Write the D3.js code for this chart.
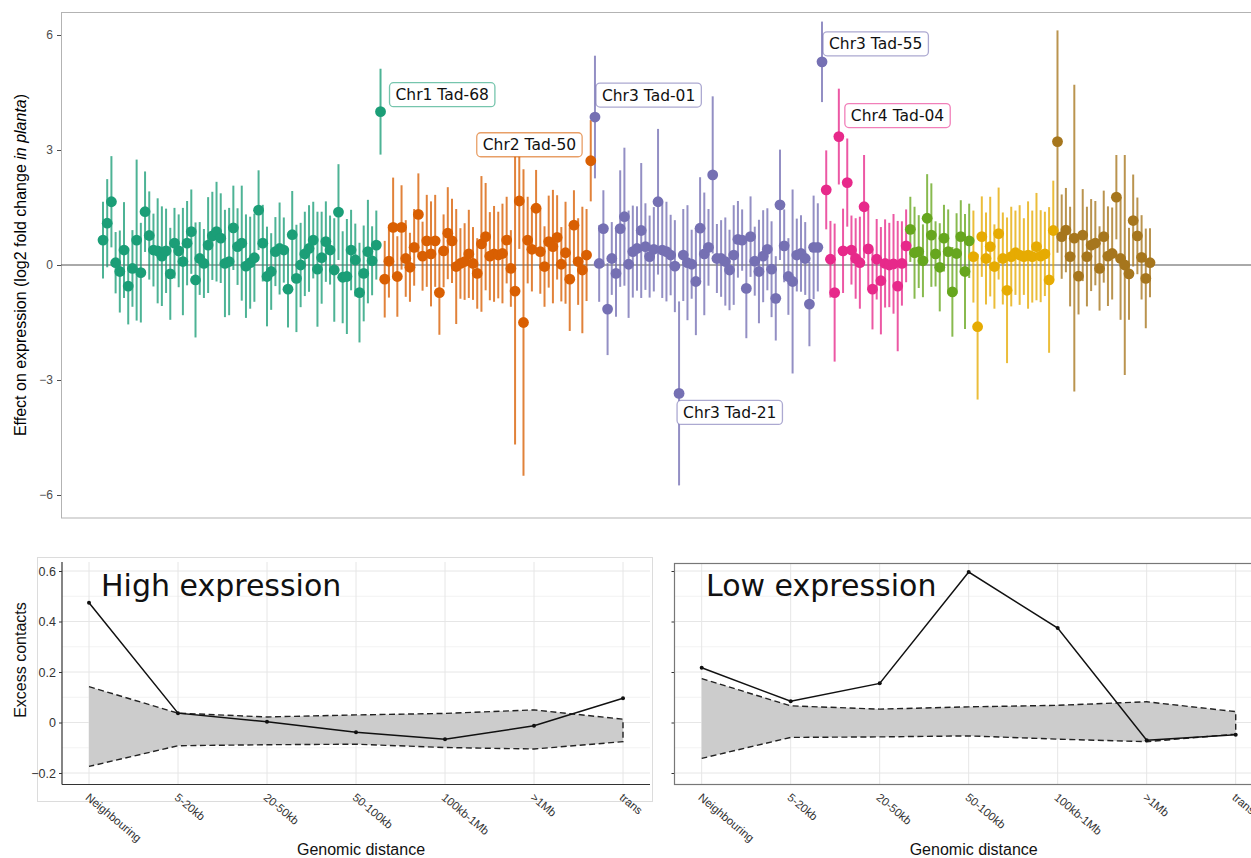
<!DOCTYPE html>
<html lang="en">
<head>
<meta charset="UTF-8">
<title>Effect on expression and excess contacts</title>
<style>
  body { margin: 0; background: #fff; }
  svg { display: block; }
  .ax text { font-family: "Liberation Sans", Arial, sans-serif; }
</style>
</head>
<body>
<svg id="chart" width="1251" height="858"></svg>
<script src="https://cdn.jsdelivr.net/npm/d3@7"></script>
<script>
// ---- top panel data: one effect (log2 FC) and half-width of interval per TAD, grouped by chromosome
const chromColors = ["#1B9E77", "#D95F02", "#7570B3", "#E7298A", "#66A61E", "#E6AB02", "#A6761D"];

const chr1Effect = [0.65,1.09,1.65,0.06,-0.17,0.39,-0.55,-0.09,0.65,-0.2,1.39,0.77,0.39,0.37,0.23,0.37,-0.23,0.57,0.37,0.09,
  0.57,0.87,-0.39,0.17,0.04,0.52,0.76,0.87,0.7,0.04,0.09,0.97,0.48,0.57,-0.03,0.06,0.19,1.43,0.57,-0.3,
  -0.17,0.35,0.43,0.39,-0.63,0.79,-0.35,0.0,0.29,0.43,0.65,-0.11,0.19,0.61,0.39,-0.13,1.38,-0.32,-0.3,0.39,
  0.13,-0.72,-0.22,0.35,0.11,0.52,4.0];
const chr1Err = [1.0,1.15,1.19,0.8,1.07,1.25,1.0,1.0,2.1,1.3,1.05,1.15,0.95,1.37,1.3,1.1,1.2,0.92,0.95,1.4,
  1.1,1.1,1.5,0.95,0.9,1.25,1.15,1.3,1.17,1.4,1.4,1.1,1.0,1.5,1.35,1.2,1.15,1.04,1.0,1.3,
  1.0,0.9,1.2,0.85,1.0,1.14,1.4,1.1,1.1,1.13,1.0,1.5,1.2,1.05,0.9,1.35,1.25,1.2,1.5,1.05,
  0.95,1.3,1.25,1.35,0.9,0.9,1.12];

const chr2Effect = [-0.37,0.10,0.98,-0.30,0.98,0.17,-0.06,0.46,1.32,0.23,0.63,0.29,0.63,-0.72,0.37,0.83,0.63,-0.04,0.04,0.09,
  0.29,0.04,-0.22,0.55,0.74,0.23,0.29,0.26,0.30,0.65,-0.09,-0.68,1.67,-1.5,0.65,0.41,1.48,0.35,-0.04,0.61,
  0.48,0.72,0.02,0.32,-0.37,1.04,0.09,-0.13,0.26,2.72];
const chr2Err = [1.0,0.95,1.3,1.05,1.1,1.0,0.9,1.0,1.07,0.9,1.2,1.37,1.2,1.1,0.95,1.2,1.1,1.5,0.92,1.0,
  1.15,0.95,0.92,1.77,1.4,1.15,1.25,1.13,1.3,1.13,1.0,4.0,1.25,4.0,1.13,1.1,1.0,1.1,1.05,1.2,
  1.48,1.1,0.97,1.33,1.35,0.91,1.13,1.65,1.2,1.06];

const chr3Effect = [3.86,0.04,0.95,-1.15,0.17,-0.22,0.95,1.26,0.02,0.35,0.43,0.9,0.48,0.22,0.41,1.65,0.39,0.35,0.26,-0.03,
  -3.35,0.26,0.06,0.02,-0.43,0.96,0.29,0.46,2.35,0.17,0.17,0.09,-0.13,0.26,0.67,0.65,-0.61,0.74,0.1,-0.17,
  0.23,0.41,-0.11,-0.87,1.57,0.5,-0.3,-0.43,0.26,0.3,0.17,-1.02,0.46,0.46,5.3];
const chr3Err = [1.6,1.0,1.0,1.2,0.95,1.13,1.52,1.8,1.4,1.2,1.1,1.76,1.13,1.07,1.1,1.9,1.25,1.3,1.05,1.2,
  2.4,1.2,1.5,0.9,1.4,1.33,1.6,1.0,2.05,0.9,1.0,1.15,1.05,1.3,1.0,0.8,1.3,1.05,0.9,1.35,
  1.2,1.07,1.25,1.1,1.44,0.95,1.0,2.4,0.95,1.0,0.95,1.1,1.35,1.15,1.05];

const chr4Effect = [1.96,0.15,-0.72,3.35,0.37,2.15,0.39,0.17,0.06,1.52,0.42,-0.63,0.15,-0.41,0.04,0.0,0.03,-0.55,0.04,0.5];
const chr4Err = [1.03,1.0,1.8,1.25,1.1,1.15,0.9,1.05,1.2,1.35,1.05,1.05,1.05,1.4,1.15,1.1,1.3,1.7,1.1,0.95];

const chr5Effect = [0.93,0.32,0.35,0.11,1.22,0.78,0.29,-0.06,0.7,0.35,-0.7,0.3,0.74,-0.17,0.63];
const chr5Err = [0.85,1.2,0.95,0.95,1.15,1.35,0.85,1.15,0.87,1.1,1.17,1.05,0.95,1.5,0.97];

const chr6Effect = [0.22,-1.61,0.74,0.17,0.48,-0.04,0.82,0.17,-0.66,0.22,0.32,0.26,0.22,0.26,0.22,0.48,0.23,0.29,-0.39,0.9];
const chr6Err = [1.2,1.9,1.05,1.2,1.3,1.1,1.2,1.2,1.9,1.3,1.1,1.3,1.0,1.4,1.2,1.4,1.2,1.1,1.9,1.3];

const chr7Effect = [3.22,0.74,0.91,0.22,0.7,-0.29,0.78,0.22,0.52,0.57,-0.09,0.74,0.23,0.3,1.77,0.17,0.0,-0.23,1.16,0.76,0.2,-0.35,0.06];
const chr7Err = [2.9,1.1,1.1,1.3,4.0,1.0,1.2,1.3,1.2,1.1,1.1,1.2,1.3,1.2,1.1,1.6,2.87,1.2,1.2,1.0,1.1,1.3,0.9];

const yTicksTop = [-6, -3, 0, 3, 6];

// labelled TADs (index into the full ordered list)
const labelNames = ["Chr1 Tad-68", "Chr2 Tad-50", "Chr3 Tad-01", "Chr3 Tad-55", "Chr4 Tad-04", "Chr3 Tad-21"];
const labelIndex = [66, 116, 117, 171, 175, 137];

// ---- bottom panels data
const distances = ["Neighbouring", "5-20kb", "20-50kb", "50-100kb", "100kb-1Mb", ">1Mb", "trans"];
const highObserved = [0.474, 0.037, 0.003, -0.039, -0.066, -0.013, 0.096];
const highUpper = [0.142, 0.037, 0.022, 0.030, 0.036, 0.050, 0.013];
const highLower = [-0.174, -0.092, -0.088, -0.086, -0.099, -0.105, -0.076];
const lowObserved = [0.217, 0.084, 0.155, 0.596, 0.374, -0.070, -0.049];
const lowUpper = [0.174, 0.066, 0.053, 0.062, 0.068, 0.082, 0.043];
const lowLower = [-0.142, -0.059, -0.057, -0.053, -0.066, -0.076, -0.046];
const yTicksBottom = [-0.2, 0, 0.2, 0.4, 0.6];
const yMinorBottom = [-0.1, 0.1, 0.3, 0.5];

// build the flat point table
const effects = [chr1Effect, chr2Effect, chr3Effect, chr4Effect, chr5Effect, chr6Effect, chr7Effect];
const errs = [chr1Err, chr2Err, chr3Err, chr4Err, chr5Err, chr6Err, chr7Err];
const points = [];
effects.forEach((arr, g) => arr.forEach((v, j) => points.push({ g: g, v: v, e: errs[g][j] })));
points.forEach((p, i) => p.i = i);

const svg = d3.select("#chart");

// ================= top panel =================
const x = d3.scaleLinear().domain([0, points.length - 1]).range([103, 1150]);
const y = d3.scaleLinear().domain([-6, 6]).range([495, 35]);

svg.append("rect")
  .attr("x", 61.5).attr("y", 12.5).attr("width", 1220).attr("height", 505.5)
  .attr("fill", "none").attr("stroke", "#b3b3b3");

const yAx = svg.append("g").attr("class", "ax")
  .attr("transform", "translate(61,0)")
  .call(d3.axisLeft(y).tickValues(yTicksTop).tickSize(4).tickPadding(4));
yAx.select(".domain").remove();
yAx.selectAll("line").attr("stroke", "#4d4d4d");
yAx.selectAll("text").attr("fill", "#4d4d4d").style("font-size", "12px");

svg.append("line")
  .attr("x1", 61).attr("x2", 1251).attr("y1", y(0)).attr("y2", y(0))
  .attr("stroke", "#555").attr("stroke-width", 1);

svg.append("text")
  .attr("transform", `translate(26,${y(0)}) rotate(-90)`)
  .attr("text-anchor", "middle")
  .style("font-family", "Liberation Sans, Arial, sans-serif")
  .style("font-size", "16px")
  .attr("fill", "#000")
  .call(t => {
    t.append("tspan").text("Effect on expression (log2 fold change ");
    t.append("tspan").style("font-style", "italic").text("in planta");
    t.append("tspan").text(")");
  });

svg.append("g").selectAll("line").data(points).join("line")
  .attr("x1", d => x(d.i)).attr("x2", d => x(d.i))
  .attr("y1", d => y(d.v - d.e)).attr("y2", d => y(d.v + d.e))
  .attr("stroke", d => chromColors[d.g])
  .attr("stroke-opacity", 0.78)
  .attr("stroke-width", 2);

svg.append("g").selectAll("circle").data(points).join("circle")
  .attr("cx", d => x(d.i)).attr("cy", d => y(d.v)).attr("r", 5.4)
  .attr("fill", d => chromColors[d.g]);

// repelled labels: offset of box top-left from the point
const labelOffsets = [[9, -29], [-114, -28], [1, -34], [1, -30], [6, -33], [-2, 7]];
const labG = svg.append("g");
labelNames.forEach((name, k) => {
  const p = points[labelIndex[k]];
  const bx = x(p.i) + labelOffsets[k][0];
  const by = y(p.v) + labelOffsets[k][1];
  const g = labG.append("g").attr("transform", `translate(${bx},${by})`);
  const rect = g.append("rect").attr("rx", 4).attr("ry", 4)
    .attr("fill", "#fff").attr("stroke", chromColors[p.g])
    .attr("stroke-opacity", 0.6).attr("stroke-width", 1.3);
  const txt = g.append("text").attr("x", 6).attr("y", 17.5)
    .style("font-family", "DejaVu Sans, Verdana, sans-serif")
    .style("font-size", "15.5px").attr("fill", "#111").text(name);
  const w = txt.node().getComputedTextLength();
  rect.attr("width", w + 12).attr("height", 24);
});

// ================= bottom panels =================
const yb = d3.scaleLinear().domain([-0.2, 0.6]).range([773, 571]);

function drawPanel(opt) {
  const xb = d3.scalePoint().domain(distances).range([opt.x0, opt.x0 + 534]);
  const g = svg.append("g");
  const left = opt.left, right = opt.right, top = opt.top, bottom = 784.5;

  // grid
  g.selectAll(".minor").data(yMinorBottom).join("line")
    .attr("x1", left).attr("x2", right).attr("y1", d => yb(d)).attr("y2", d => yb(d))
    .attr("stroke", "#f0f0f0").attr("stroke-width", 0.8);
  g.selectAll(".major").data(yTicksBottom).join("line")
    .attr("x1", left).attr("x2", right).attr("y1", d => yb(d)).attr("y2", d => yb(d))
    .attr("stroke", "#e6e6e6").attr("stroke-width", 1);
  g.selectAll(".vgrid").data(distances).join("line")
    .attr("x1", d => xb(d)).attr("x2", d => xb(d)).attr("y1", top).attr("y2", bottom)
    .attr("stroke", "#e6e6e6").attr("stroke-width", 1);

  // null band
  const band = distances.map((d, i) => ({ d: d, lo: opt.lower[i], hi: opt.upper[i] }));
  g.append("path").datum(band)
    .attr("d", d3.area().x(d => xb(d.d)).y0(d => yb(d.lo)).y1(d => yb(d.hi)))
    .attr("fill", "#cccccc");
  const outline = band.map(d => [xb(d.d), yb(d.hi)])
    .concat(band.slice().reverse().map(d => [xb(d.d), yb(d.lo)]));
  g.append("path").datum(outline)
    .attr("d", d3.line())
    .attr("fill", "none").attr("stroke", "#222").attr("stroke-width", 1.4)
    .attr("stroke-dasharray", "6,3.5");

  // observed
  const obs = distances.map((d, i) => [xb(d), yb(opt.observed[i])]);
  g.append("path").datum(obs).attr("d", d3.line())
    .attr("fill", "none").attr("stroke", "#111").attr("stroke-width", 1.5);
  g.selectAll(".pt").data(obs).join("circle")
    .attr("cx", d => d[0]).attr("cy", d => d[1]).attr("r", 2).attr("fill", "#111");

  // axes
  const ax = g.append("g").attr("class", "ax")
    .attr("transform", `translate(${left},0)`)
    .call(d3.axisLeft(yb).tickValues(yTicksBottom).tickSize(3).tickPadding(3)
      .tickFormat(opt.showY ? (d => d === 0 ? "0" : d3.format(".1f")(d)) : () => ""));
  ax.select(".domain").remove();
  ax.selectAll("line").attr("stroke", "#333");
  ax.selectAll("text").attr("fill", "#333").style("font-size", "12.5px");

  if (opt.frame) {
    g.append("rect").attr("x", left).attr("y", top).attr("width", right - left).attr("height", bottom - top)
      .attr("fill", "none").attr("stroke", "#777").attr("stroke-width", 1.2);
  } else {
    g.append("line").attr("x1", left).attr("x2", left).attr("y1", top).attr("y2", bottom)
      .attr("stroke", "#333").attr("stroke-width", 1.2);
    g.append("line").attr("x1", left).attr("x2", right).attr("y1", bottom).attr("y2", bottom)
      .attr("stroke", "#333").attr("stroke-width", 1.2);
  }

  g.selectAll(".xlab").data(distances).join("text")
    .attr("transform", d => `translate(${xb(d) + 1},${bottom + 8}) rotate(40)`)
    .style("font-family", "Liberation Sans, Arial, sans-serif")
    .style("font-size", "11.5px").attr("fill", "#333")
    .attr("text-anchor", "start").attr("dominant-baseline", "hanging")
    .text(d => d);

  g.append("text").attr("x", opt.x0 + 272).attr("y", 855)
    .attr("text-anchor", "middle")
    .style("font-family", "Liberation Sans, Arial, sans-serif")
    .style("font-size", "16px").attr("fill", "#111").text("Genomic distance");

  g.append("text").attr("x", opt.titleX).attr("y", 596)
    .style("font-family", "DejaVu Sans, Verdana, sans-serif")
    .style("font-size", "30px").attr("fill", "#111").text(opt.title);
}

// outer light frame of the left plot
svg.append("rect").attr("x", 37.5).attr("y", 557.5).attr("width", 615).attr("height", 244)
  .attr("fill", "none").attr("stroke", "#dcdcdc");

drawPanel({ x0: 89, left: 62, right: 650, top: 562, observed: highObserved, upper: highUpper,
  lower: highLower, showY: true, frame: false, title: "High expression", titleX: 101 });
drawPanel({ x0: 701.7, left: 674.5, right: 1275, top: 563.5, observed: lowObserved, upper: lowUpper,
  lower: lowLower, showY: false, frame: true, title: "Low expression", titleX: 706 });

svg.append("text")
  .attr("transform", "translate(26,660) rotate(-90)")
  .attr("text-anchor", "middle")
  .style("font-family", "Liberation Sans, Arial, sans-serif")
  .style("font-size", "16px").attr("fill", "#111").text("Excess contacts");
</script>
</body>
</html>
